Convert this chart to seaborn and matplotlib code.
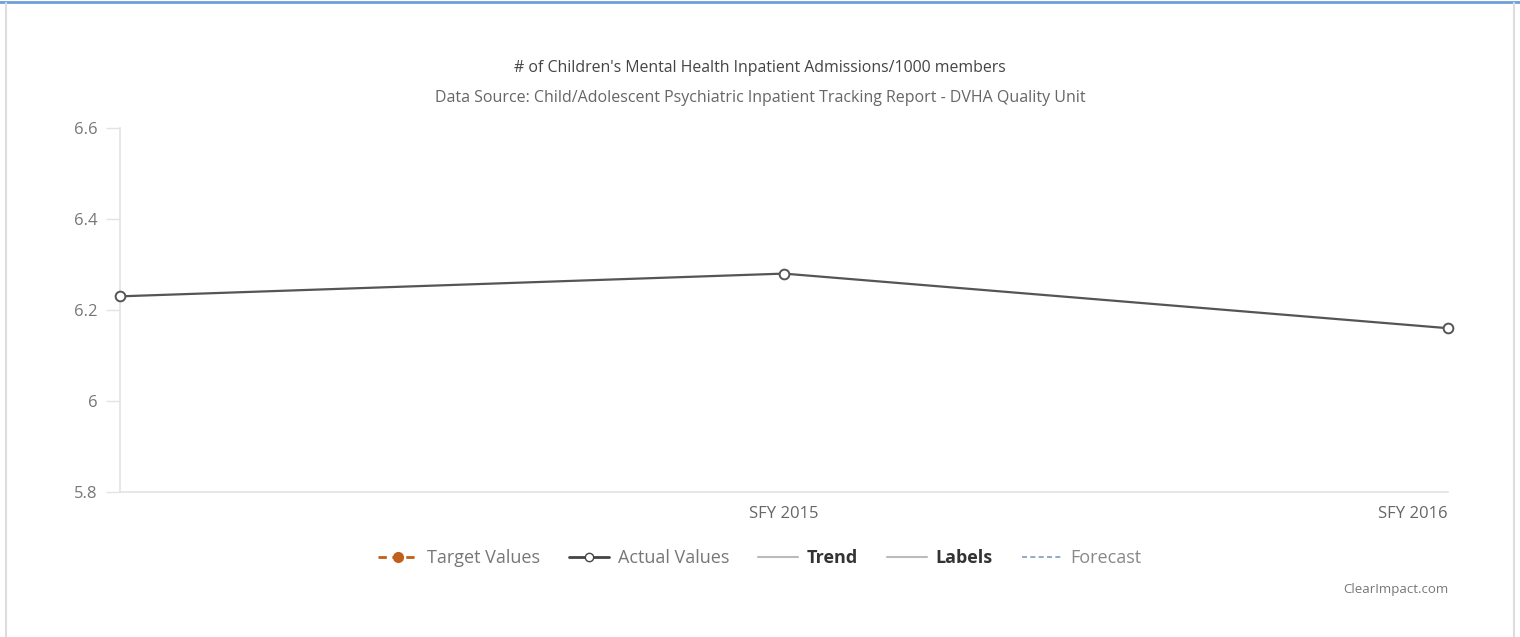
import pandas as pd
import matplotlib
matplotlib.use('Agg')
import matplotlib.pyplot as plt
from matplotlib.lines import Line2D
import seaborn as sns

sns.set_style('white')
plt.rcParams['font.family'] = ['Open Sans', 'DejaVu Sans']

# data
periods = ['SFY 2014', 'SFY 2015', 'SFY 2016']
tick_labels = ['', 'SFY 2015', 'SFY 2016']
actual = [6.23, 6.28, 6.16]
y_ticks = [5.8, 6.0, 6.2, 6.4, 6.6]
y_tick_labels = ['5.8', '6', '6.2', '6.4', '6.6']

df = pd.DataFrame({'x': range(len(periods)), 'period': periods, 'value': actual})

fig = plt.figure(figsize=(15.2, 6.37), dpi=100)
ax = fig.add_axes([120 / 1520, 1 - 492 / 637, (1448 - 120) / 1520, (492 - 128) / 637])

sns.lineplot(data=df, x='x', y='value', ax=ax, color='#555555', linewidth=1.6,
             marker='o', markersize=7, markerfacecolor='white',
             markeredgecolor='#555555', markeredgewidth=1.4, clip_on=False, zorder=5)

ax.set_xlim(0, len(periods) - 1)
ax.set_ylim(5.8, 6.6)
ax.set_xticks(range(len(periods)))
ax.set_xticklabels(tick_labels)
ax.set_yticks(y_ticks)
ax.set_yticklabels(y_tick_labels)
ax.set_xlabel('')
ax.set_ylabel('')

for s in ['top', 'right']:
    ax.spines[s].set_visible(False)
for s in ['left', 'bottom']:
    ax.spines[s].set_color('#e3e3e3')
    ax.spines[s].set_linewidth(1.2)

ax.tick_params(axis='y', length=10, width=1, color='#e3e3e3', colors='#777777',
               labelsize=12, pad=6, left=True)
ax.tick_params(axis='y', color='#e3e3e3')
ax.tick_params(axis='x', length=0, colors='#666666', labelsize=12, pad=10)
ax.get_xticklabels()[-1].set_ha('right')

# titles
fig.text(0.5, 1 - 68 / 637, "# of Children's Mental Health Inpatient Admissions/1000 members",
         ha='center', va='center', fontsize=11.4, color='#444444')
fig.text(0.5, 1 - 98 / 637, 'Data Source: Child/Adolescent Psychiatric Inpatient Tracking Report - DVHA Quality Unit',
         ha='center', va='center', fontsize=11.5, color='#666666')

# legend
handles = [
    Line2D([], [], color='#c0601a', linestyle=(0, (3, 2)), linewidth=2, marker='o',
           markersize=7, markerfacecolor='#c0601a', markeredgecolor='#c0601a'),
    Line2D([], [], color='#444444', linewidth=2, marker='o', markersize=6,
           markerfacecolor='white', markeredgecolor='#444444'),
    Line2D([], [], color='#bbbbbb', linewidth=1.5),
    Line2D([], [], color='#bbbbbb', linewidth=1.5),
    Line2D([], [], color='#7f9cc0', linestyle=(0, (3, 2)), linewidth=1.2),
]
labels = ['Target Values', 'Actual Values', 'Trend', 'Labels', 'Forecast']
leg = fig.legend(handles, labels, loc='center', bbox_to_anchor=(0.5, 1 - 558 / 637),
                 ncol=5, frameon=False, fontsize=13, handlelength=2.2,
                 columnspacing=1.6, handletextpad=0.5)
for t, c, w in zip(leg.get_texts(),
                   ['#777777', '#777777', '#333333', '#333333', '#888888'],
                   ['normal', 'normal', 'bold', 'bold', 'normal']):
    t.set_color(c)
    t.set_fontweight(w)

fig.text(1448 / 1520, 1 - 590 / 637, 'ClearImpact.com', ha='right', va='center',
         fontsize=9.5, color='#777777')

# page frame
fig.add_artist(Line2D([0, 1], [1 - 2 / 637, 1 - 2 / 637], color='#6f9fd8', linewidth=2))
fig.add_artist(Line2D([6 / 1520, 6 / 1520], [0, 1 - 3 / 637], color='#dddddd', linewidth=1.5))
fig.add_artist(Line2D([1514 / 1520, 1514 / 1520], [0, 1 - 3 / 637], color='#dddddd', linewidth=1.5))

fig.savefig('out.png', dpi=100)
